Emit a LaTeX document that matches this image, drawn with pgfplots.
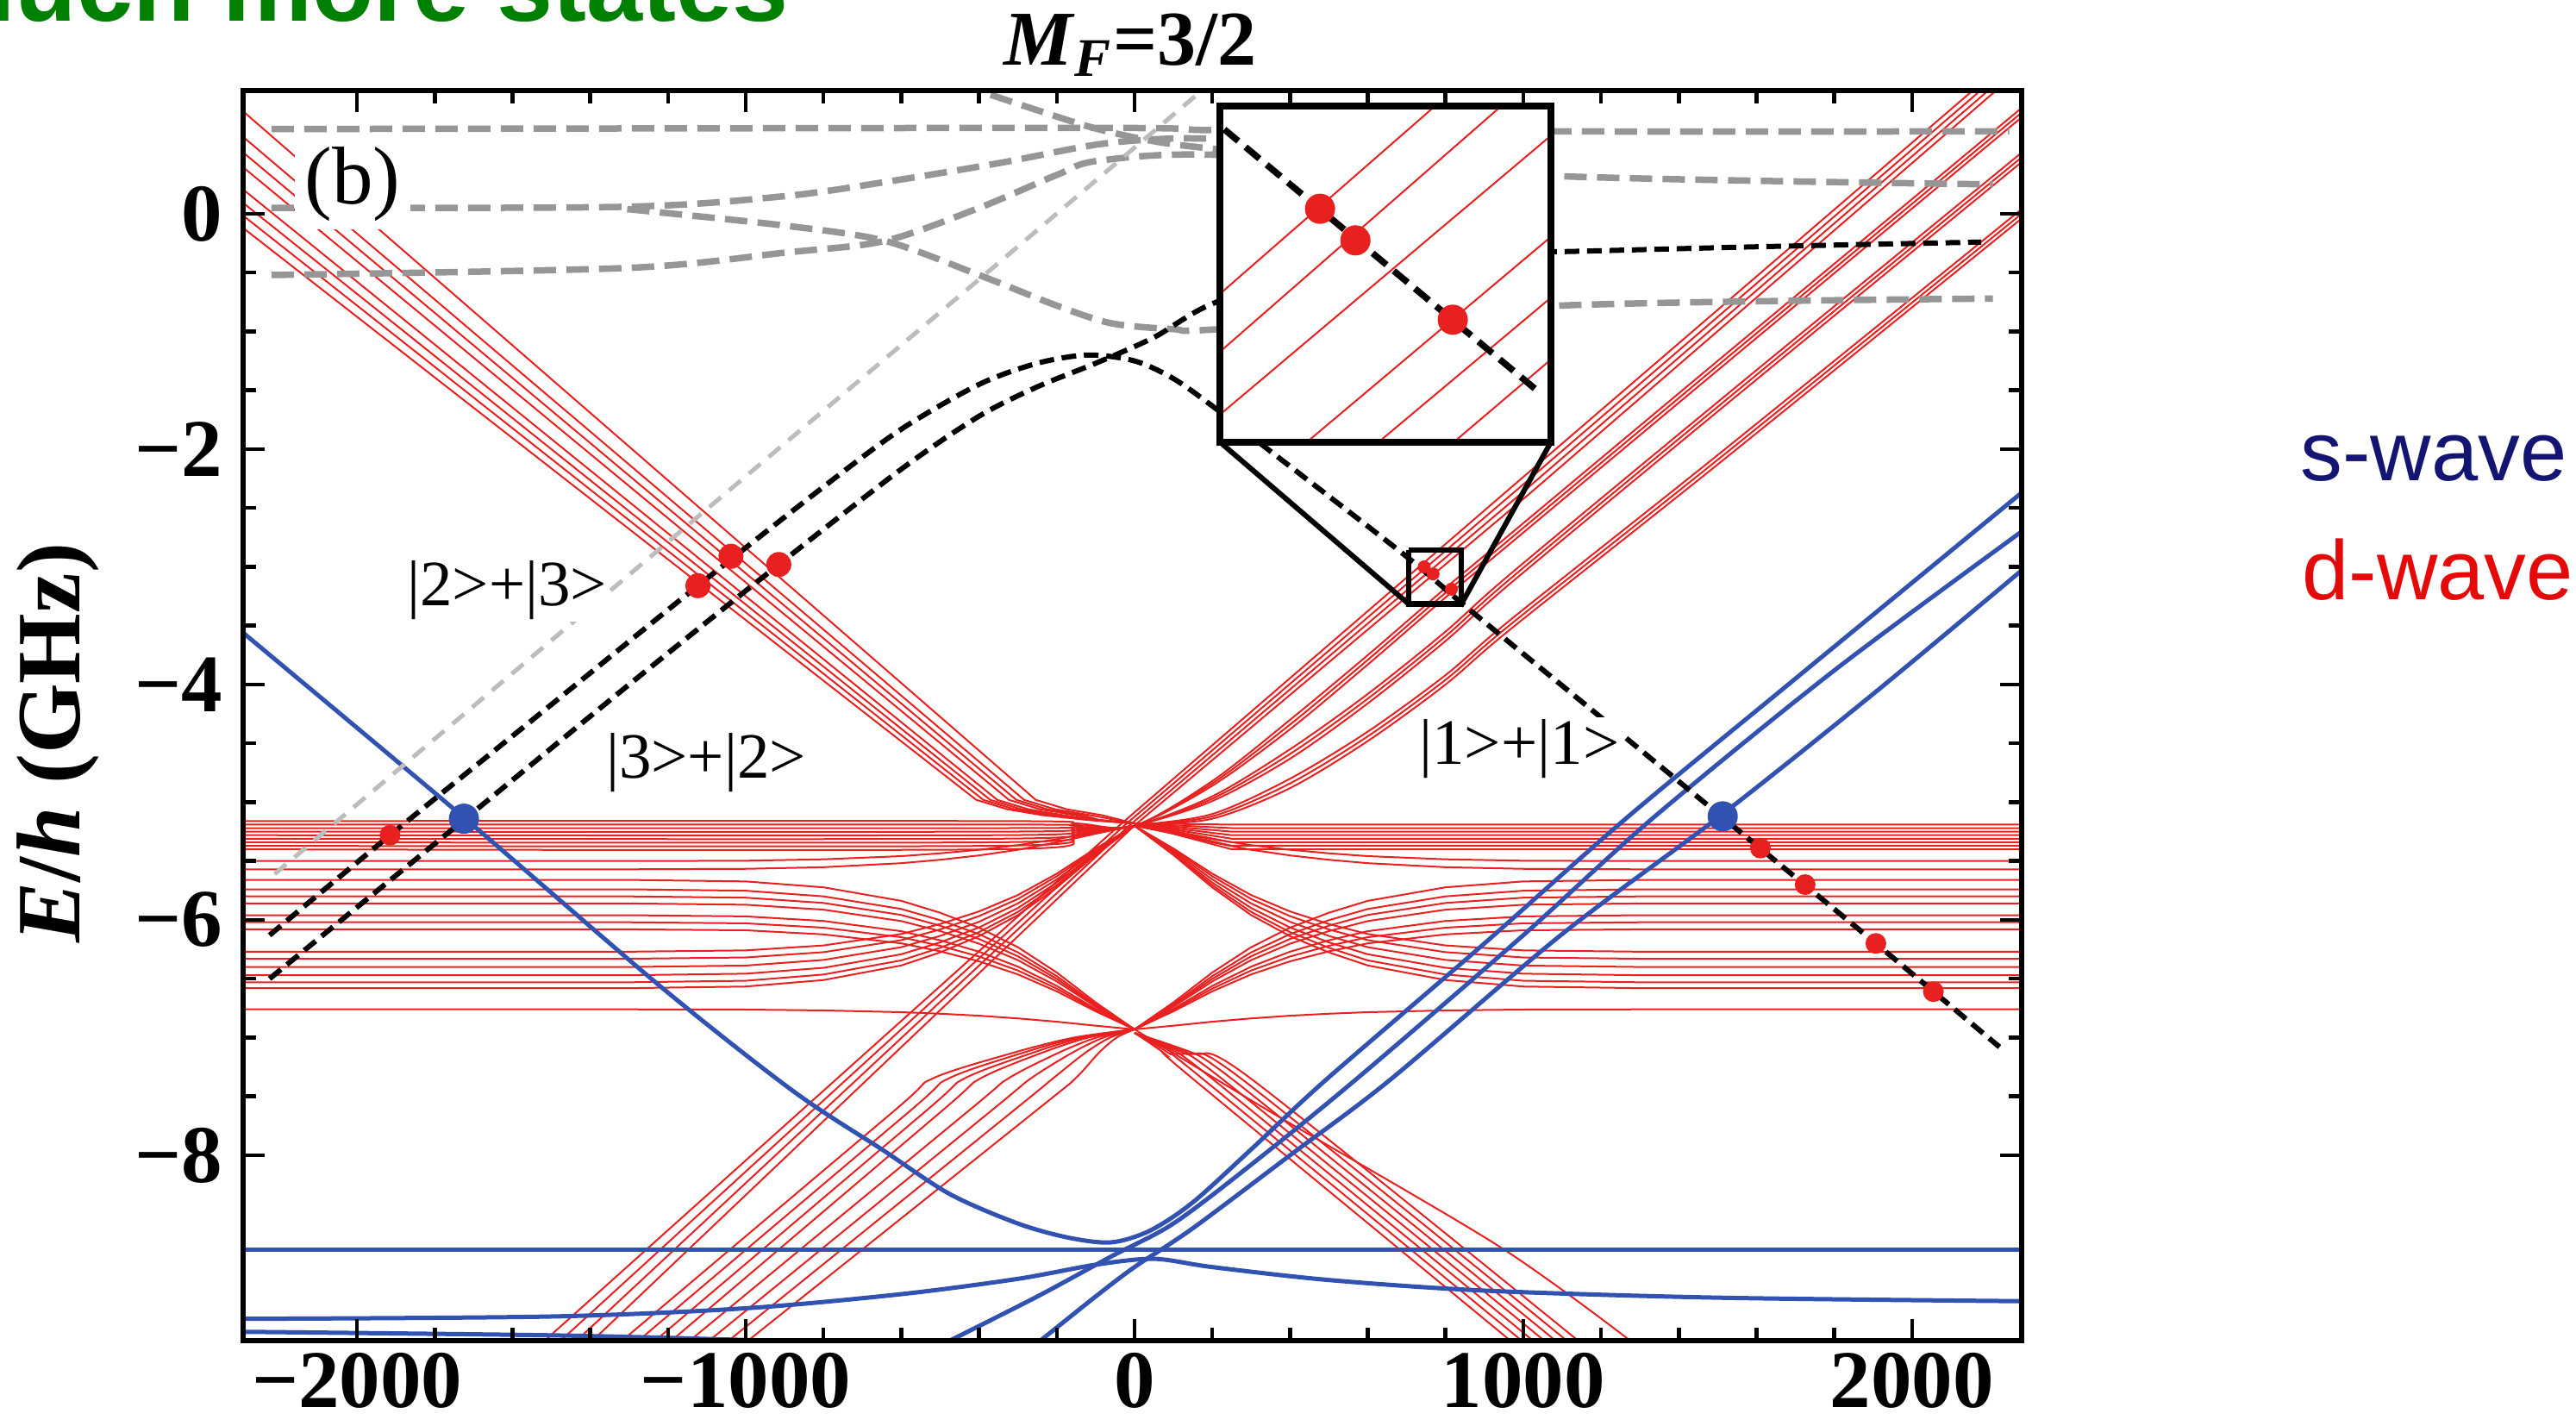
\documentclass[border=0pt]{standalone}
\usepackage{fontspec}
\setmainfont{Liberation Serif}
\newfontfamily\arialfont{Liberation Sans}
\usepackage{pgfplots}
\pgfplotsset{compat=1.18}
\usepackage{pgfplotstable}
\usetikzlibrary{calc}

\definecolor{dred}{RGB}{232,32,32}
\definecolor{bblue}{RGB}{50,82,178}
\definecolor{dgray}{RGB}{150,150,150}
\definecolor{lgray}{RGB}{188,188,188}
\definecolor{navy}{RGB}{20,20,115}
\definecolor{sred}{RGB}{228,10,10}
\definecolor{tgreen}{RGB}{0,128,0}

\pgfplotsset{
 redl/.style={draw=dred, line width=0.4pt, no markers},
 bluel/.style={draw=bblue, line width=1.0pt, no markers, smooth},
 blk/.style={draw=black, line width=1.2pt, dash pattern=on 3.4pt off 1.8pt, no markers, smooth},
 gryl/.style={draw=dgray, line width=1.5pt, dash pattern=on 5.2pt off 2.4pt, no markers, smooth},
 lgryl/.style={draw=lgray, line width=1.0pt, dash pattern=on 3.5pt off 2.5pt, no markers},
}

\pgfplotstableread{
x u1 u2 u3 u4 u5 u6 u7 u8 w1 w2 w3 w4 w5 w6 w7 w8
-2293 -5.50 -5.57 -6.27 -6.33 -6.40 -6.47 -6.53 -6.58 -5.66 -5.74 -5.80 -5.86 -5.96 -6.02 -6.08 -6.76
-1300 -5.50 -5.57 -6.27 -6.33 -6.40 -6.47 -6.53 -6.58 -5.66 -5.74 -5.80 -5.86 -5.96 -6.02 -6.08 -6.76
-1000 -5.497 -5.566 -6.259 -6.319 -6.388 -6.457 -6.517 -6.566 -5.673 -5.752 -5.811 -5.871 -5.970 -6.029 -6.088 -6.762
-800 -5.485 -5.552 -6.217 -6.274 -6.340 -6.407 -6.464 -6.511 -5.723 -5.800 -5.856 -5.913 -6.009 -6.066 -6.123 -6.769
-600 -5.458 -5.518 -6.120 -6.172 -6.232 -6.292 -6.344 -6.387 -5.838 -5.907 -5.958 -6.010 -6.096 -6.147 -6.199 -6.784
-500 -5.434 -5.489 -6.035 -6.081 -6.136 -6.191 -6.237 -6.276 -5.939 -6.002 -6.049 -6.095 -6.173 -6.220 -6.267 -6.797
-400 -5.404 -5.452 -5.928 -5.968 -6.016 -6.064 -6.104 -6.138 -6.066 -6.121 -6.162 -6.202 -6.270 -6.311 -6.352 -6.814
-300 -5.365 -5.404 -5.789 -5.822 -5.860 -5.899 -5.932 -5.959 -6.232 -6.276 -6.309 -6.342 -6.397 -6.430 -6.463 -6.837
-200 -5.314 -5.341 -5.607 -5.629 -5.656 -5.683 -5.705 -5.724 -6.447 -6.478 -6.501 -6.523 -6.561 -6.584 -6.607 -6.865
-100 -5.254 -5.267 -5.393 -5.403 -5.416 -5.429 -5.439 -5.448 -6.701 -6.716 -6.727 -6.737 -6.755 -6.766 -6.777 -6.899
0 -5.2 -5.2 -5.2 -5.2 -5.2 -5.2 -5.2 -5.2 -6.93 -6.93 -6.93 -6.93 -6.93 -6.93 -6.93 -6.93
100 -5.254 -5.267 -5.393 -5.403 -5.416 -5.429 -5.439 -5.448 -6.701 -6.716 -6.727 -6.737 -6.755 -6.766 -6.777 -6.899
200 -5.314 -5.341 -5.607 -5.629 -5.656 -5.683 -5.705 -5.724 -6.447 -6.478 -6.501 -6.523 -6.561 -6.584 -6.607 -6.865
300 -5.365 -5.404 -5.789 -5.822 -5.860 -5.899 -5.932 -5.959 -6.232 -6.276 -6.309 -6.342 -6.397 -6.430 -6.463 -6.837
400 -5.404 -5.452 -5.928 -5.968 -6.016 -6.064 -6.104 -6.138 -6.066 -6.121 -6.162 -6.202 -6.270 -6.311 -6.352 -6.814
500 -5.434 -5.489 -6.035 -6.081 -6.136 -6.191 -6.237 -6.276 -5.939 -6.002 -6.049 -6.095 -6.173 -6.220 -6.267 -6.797
600 -5.458 -5.518 -6.120 -6.172 -6.232 -6.292 -6.344 -6.387 -5.838 -5.907 -5.958 -6.010 -6.096 -6.147 -6.199 -6.784
800 -5.485 -5.552 -6.217 -6.274 -6.340 -6.407 -6.464 -6.511 -5.723 -5.800 -5.856 -5.913 -6.009 -6.066 -6.123 -6.769
1000 -5.497 -5.566 -6.259 -6.319 -6.388 -6.457 -6.517 -6.566 -5.673 -5.752 -5.811 -5.871 -5.970 -6.029 -6.088 -6.762
1300 -5.50 -5.57 -6.27 -6.33 -6.40 -6.47 -6.53 -6.58 -5.66 -5.74 -5.80 -5.86 -5.96 -6.02 -6.08 -6.76
2282 -5.50 -5.57 -6.27 -6.33 -6.40 -6.47 -6.53 -6.58 -5.66 -5.74 -5.80 -5.86 -5.96 -6.02 -6.08 -6.76
}\fan

\begin{document}
\begin{tikzpicture}
\begin{axis}[name=main, at={(0,0)}, anchor=south west,
 scale only axis, width=412.6pt, height=290pt,
 xmin=-2293, xmax=2282, ymin=-9.575, ymax=1.048,
 xtick={-2000,-1000,0,1000,2000}, xticklabels={−2000,−1000,0,1000,2000},
 ytick={-8,-6,-4,-2,0}, yticklabels={−8,−6,−4,−2,0},
 minor x tick num=4, minor y tick num=3,
 tick align=inside, xtick pos=both, ytick pos=both,
 major tick length=5pt, minor tick length=3pt,
 tick style={black, line width=0.9pt},
 axis line style={line width=1.2pt},
 axis on top,
 tick label style={font=\fontsize{19}{19}\selectfont\bfseries},
 xticklabel style={anchor=north, inner sep=0pt, yshift=-2.6pt},
 yticklabel style={anchor=east, inner sep=0pt, xshift=-4.6pt},
 ylabel={\textbf{\textit{E}/\textit{h} (GHz)}},
 ylabel style={font=\fontsize{21}{21}\selectfont, at={(axis description cs:-0.1042,0.478)}, anchor=center},
]
\coordinate (sw) at (rel axis cs:0,0);
\coordinate (insetSW) at (axis cs:220,-1.94);

% ---- red d-wave: fan lines around the two waists
\foreach \c in {u1,u2,u3,u4,u5,u6,u7,u8,w1,w2,w3,w4,w5,w6,w7,w8}{
 \addplot[redl] table[x=x,y=\c]{\fan};
}
% ascending straight lines
\addplot[redl] coordinates {(-1517,-9.575) (-40,-5.2) (967,-2.33) (2157,1.05)};
\addplot[redl] coordinates {(-1476,-9.575) (-27,-5.2) (982,-2.35) (2177,1.05)};
\addplot[redl] coordinates {(-1435,-9.575) (-14,-5.2) (997,-2.37) (2197,1.05)};
\addplot[redl] coordinates {(-1394,-9.575) (-1,-5.2) (1012,-2.39) (2217,1.05)};
% descending from upper left into the upper waist
\addplot[redl] coordinates {(-2293,-0.12) (-407,-4.98) (-327,-5.06) (-237,-5.11) (-122,-5.15) (0,-5.18) (250,-5.19) (2282,-5.19)};
\addplot[redl] coordinates {(-2293,-0.015) (-389,-4.98) (-309,-5.06) (-219,-5.11) (-117,-5.15) (0,-5.18) (250,-5.22) (2282,-5.22)};
\addplot[redl] coordinates {(-2293,0.093) (-371,-4.98) (-291,-5.06) (-201,-5.11) (-111,-5.15) (0,-5.18) (250,-5.25) (2282,-5.25)};
\addplot[redl] coordinates {(-2293,0.207) (-353,-4.98) (-273,-5.06) (-183,-5.11) (-106,-5.15) (0,-5.18) (250,-5.28) (2282,-5.28)};
\addplot[redl] coordinates {(-2293,0.396) (-323,-4.98) (-243,-5.06) (-153,-5.11) (-97,-5.15) (0,-5.18) (250,-5.31) (2282,-5.31)};
\addplot[redl] coordinates {(-2293,0.522) (-304,-4.98) (-224,-5.06) (-134,-5.11) (-91,-5.15) (0,-5.18) (250,-5.34) (2282,-5.34)};
\addplot[redl] coordinates {(-2293,0.654) (-284,-4.98) (-204,-5.06) (-114,-5.11) (0,-5.18) (250,-5.37) (2282,-5.37)};
\addplot[redl] coordinates {(-2293,0.871) (-254,-4.98) (-174,-5.06) (-84,-5.11) (0,-5.18) (250,-5.40) (2282,-5.40)};
% from left cluster up to the upper right
\addplot[redl, smooth] coordinates {(-2293,-5.16) (-350,-5.16) (-150,-5.18) (0,-5.2) (200,-4.82) (400,-4.30) (600,-3.75) (800,-3.18) (967,-2.72) (1500,-1.25) (2282,0.90)};
\addplot[redl, smooth] coordinates {(-2293,-5.19) (-350,-5.19) (-150,-5.195) (0,-5.2) (200,-4.84) (400,-4.34) (600,-3.79) (800,-3.22) (967,-2.76) (1500,-1.29) (2282,0.86)};
\addplot[redl, smooth] coordinates {(-2293,-5.22) (-350,-5.22) (-150,-5.21) (0,-5.2) (200,-4.86) (400,-4.38) (600,-3.83) (800,-3.26) (967,-2.80) (1500,-1.33) (2282,0.82)};
\addplot[redl, smooth] coordinates {(-2293,-5.25) (-350,-5.25) (-150,-5.225) (0,-5.2) (200,-4.95) (400,-4.55) (600,-4.08) (800,-3.55) (967,-3.06) (1500,-1.60) (2282,0.52)};
\addplot[redl, smooth] coordinates {(-2293,-5.28) (-350,-5.28) (-150,-5.24) (0,-5.2) (200,-4.97) (400,-4.59) (600,-4.12) (800,-3.59) (967,-3.10) (1500,-1.64) (2282,0.48)};
\addplot[redl, smooth] coordinates {(-2293,-5.31) (-350,-5.31) (-150,-5.255) (0,-5.2) (200,-4.99) (400,-4.63) (600,-4.16) (800,-3.63) (967,-3.14) (1500,-1.68) (2282,0.44)};
\addplot[redl, smooth] coordinates {(-2293,-5.34) (-350,-5.34) (-150,-5.27) (0,-5.2) (200,-5.10) (400,-4.80) (600,-4.40) (800,-3.92) (967,-3.45) (1500,-2.05) (2282,0.04)};
\addplot[redl, smooth] coordinates {(-2293,-5.37) (-350,-5.37) (-150,-5.285) (0,-5.2) (200,-5.12) (400,-4.84) (600,-4.44) (800,-3.96) (967,-3.49) (1500,-2.09) (2282,0.00)};
\addplot[redl, smooth] coordinates {(-2293,-5.40) (-350,-5.40) (-150,-5.30) (0,-5.2) (200,-5.14) (400,-4.88) (600,-4.48) (800,-4.00) (967,-3.53) (1500,-2.13) (2282,-0.04)};
% from bottom left into the lower waist
\addplot[redl, smooth] coordinates {(-1318,-9.575) (-621,-7.63) (-521,-7.35) (-313,-7.13) (-156,-7.0) (0,-6.93)};
\addplot[redl, smooth] coordinates {(-1276,-9.575) (-580,-7.63) (-480,-7.35) (-288,-7.13) (-144,-7.0) (0,-6.93)};
\addplot[redl, smooth] coordinates {(-1233,-9.575) (-539,-7.63) (-439,-7.35) (-263,-7.13) (-132,-7.0) (0,-6.93)};
\addplot[redl, smooth] coordinates {(-1191,-9.575) (-498,-7.63) (-398,-7.35) (-239,-7.13) (-119,-7.0) (0,-6.93)};
\addplot[redl, smooth] coordinates {(-1144,-9.575) (-426,-7.62) (-326,-7.35) (-196,-7.13) (-98,-7.0) (0,-6.93)};
\addplot[redl, smooth] coordinates {(-1094,-9.575) (-368,-7.62) (-268,-7.35) (-161,-7.13) (-80,-7.0) (0,-6.93)};
\addplot[redl, smooth] coordinates {(-1044,-9.575) (-311,-7.62) (-211,-7.35) (-127,-7.13) (-63,-7.0) (0,-6.93)};
\addplot[redl, smooth] coordinates {(-994,-9.575) (-253,-7.62) (-153,-7.35) (-92,-7.13) (-46,-7.0) (0,-6.93)};
% from the lower waist down to the bottom right
\addplot[redl, smooth] coordinates {(0,-6.96) (75,-7.13) (150,-7.35) (967,-9.575)};
\addplot[redl, smooth] coordinates {(0,-6.96) (87,-7.13) (175,-7.35) (996,-9.575)};
\addplot[redl, smooth] coordinates {(0,-6.96) (100,-7.13) (200,-7.35) (1025,-9.575)};
\addplot[redl, smooth] coordinates {(0,-6.96) (112,-7.13) (225,-7.35) (1054,-9.575)};
\addplot[redl, smooth] coordinates {(0,-6.96) (125,-7.13) (250,-7.35) (1083,-9.575)};
\addplot[redl, smooth] coordinates {(0,-6.96) (137,-7.13) (275,-7.35) (1112,-9.575)};
\addplot[redl, smooth] coordinates {(0,-6.96) (150,-7.13) (300,-7.35) (1141,-9.575)};
\addplot[redl, smooth] coordinates {(0,-6.93) (339,-7.61) (936,-8.77) (1275,-9.575)};

% ---- blue s-wave
\addplot[bluel] coordinates {(-2293,-3.56) (-1725,-5.13) (-1225,-6.55) (-880,-7.45) (-650,-7.95) (-475,-8.33) (-300,-8.58) (-170,-8.70) (-60,-8.74) (40,-8.64) (150,-8.40) (300,-7.95) (492,-7.36) (900,-6.20) (1267,-5.13) (1700,-3.95) (2282,-2.37)};
\addplot[bluel] coordinates {(-475,-9.575) (-250,-9.2) (-60,-8.86) (100,-8.58) (300,-8.08) (568,-7.36) (1000,-6.13) (1335,-5.13) (1800,-3.88) (2282,-2.70)};
\addplot[bluel] coordinates {(-242,-9.575) (-100,-9.2) (0,-8.95) (150,-8.62) (400,-8.0) (657,-7.36) (1100,-6.12) (1513,-5.10) (1900,-4.08) (2282,-3.03)};
\addplot[bluel] coordinates {(-2293,-8.80) (2282,-8.80)};
\addplot[bluel] coordinates {(-2293,-9.39) (-1500,-9.37) (-1000,-9.30) (-600,-9.18) (-300,-9.05) (-100,-8.93) (50,-8.88) (200,-8.95) (500,-9.06) (900,-9.15) (1500,-9.21) (2282,-9.24)};
\addplot[bluel] coordinates {(-2293,-9.50) (-1500,-9.53) (-1000,-9.57) (-800,-9.60)};

% ---- gray dashed (upper M_F=3/2 states)
\addplot[gryl] coordinates {(-2220,0.72) (-94,0.73) (220,0.71) (1093,0.70) (2250,0.70)};
\addplot[gryl] coordinates {(-2220,0.05) (-1305,0.06) (-900,0.15) (-642,0.27) (-350,0.43) (-94,0.59) (100,0.64) (300,0.63)};
\addplot[gryl] coordinates {(-1305,0.04) (-900,-0.10) (-642,-0.23) (-400,-0.52) (-200,-0.78) (-60,-0.93) (100,-0.98) (220,-0.98) (1093,-0.78) (2208,-0.72)};
\addplot[gryl] coordinates {(-2220,-0.52) (-1305,-0.46) (-900,-0.33) (-642,-0.23) (-400,0.05) (-200,0.33) (-94,0.45) (220,0.50) (1093,0.32) (2208,0.25)};
\addplot[gryl] coordinates {(-450,1.10) (-250,0.88) (-94,0.72) (80,0.60) (300,0.52)};
\addplot[lgryl] coordinates {(-2212,-5.61) (-322,-0.34) (174,1.05)};

% ---- black dashed
\addplot[blk] coordinates {(-2225,-6.13) (-1915,-5.28) (-1500,-4.17) (-1123,-3.16) (-800,-2.32) (-600,-1.83) (-400,-1.45) (-250,-1.27) (-120,-1.20) (0,-1.25) (100,-1.40) (203,-1.64) (331,-1.97) (695,-2.90) (864,-3.37) (1200,-4.28) (1513,-5.13) (1907,-6.20) (2225,-7.08)};
\addplot[blk] coordinates {(-2225,-6.50) (-1725,-5.15) (-1300,-4.00) (-915,-2.98) (-600,-2.17) (-400,-1.72) (-250,-1.47) (-100,-1.27) (50,-1.05) (203,-0.76) (500,-0.45) (800,-0.34) (1119,-0.32) (1600,-0.28) (2178,-0.24)};

% ---- dots
\addplot[only marks, mark=*, mark size=2.7pt, mark options={fill=dred, draw=dred}] coordinates {(-1123,-3.16) (-1038,-2.91) (-915,-2.98)};
\addplot[only marks, mark=*, mark size=2.2pt, mark options={fill=dred, draw=dred}] coordinates {(-1915,-5.28) (1610,-5.39) (1725,-5.70) (1907,-6.20) (2055,-6.61)};
\addplot[only marks, mark=*, mark size=1.3pt, mark options={fill=dred, draw=dred}] coordinates {(745,-3.00) (768,-3.06) (815,-3.19)};
\addplot[only marks, mark=*, mark size=3.3pt, mark options={fill=bblue, draw=bblue}] coordinates {(-1725,-5.14) (1513,-5.12)};

% ---- labels
\node[fill=white, inner sep=0pt, minimum width=26.9pt, minimum height=20.7pt, font=\fontsize{19}{19}\selectfont] at (axis cs:-2011,0.25) {(b)};
\node[fill=white, inner sep=0.5pt, font=\fontsize{15}{15}\selectfont] at (axis cs:-1614,-3.20) {|2>+|3>};
\node[fill=white, inner sep=0.5pt, font=\fontsize{15}{15}\selectfont] at (axis cs:-1102,-4.66) {|3>+|2>};
\node[fill=white, inner sep=0.5pt, font=\fontsize{15}{15}\selectfont] at (axis cs:990,-4.55) {|1>+|1>};

% ---- zoom box and connectors
\addplot[black, line width=1.2pt] coordinates {(220,-1.94) (705,-3.315)};
\addplot[black, line width=1.2pt] coordinates {(1071,-1.94) (841,-3.315)};
\addplot[black, line width=1.3pt] coordinates {(705,-2.857) (841,-2.857) (841,-3.315) (705,-3.315) (705,-2.857)};
\end{axis}

% ---- inset
\begin{axis}[at={(insetSW)}, anchor=south west, scale only axis,
 width=76.8pt, height=78pt, xmin=0, xmax=1, ymin=0, ymax=1,
 ticks=none, axis line style={line width=1.6pt}, axis on top,
 axis background/.style={fill=white}]
\addplot[redl] coordinates {(0,0.441) (1,1.301)};
\addplot[redl] coordinates {(0,0.269) (1,1.129)};
\addplot[redl] coordinates {(0,0.082) (1,0.912)};
\addplot[redl] coordinates {(0,-0.217) (1,0.611)};
\addplot[redl] coordinates {(0,-0.395) (1,0.430)};
\addplot[redl] coordinates {(0,-0.591) (1,0.246)};
\addplot[black, line width=1.5pt, dash pattern=on 4.2pt off 2.2pt] coordinates {(0.013,0.930) (0.957,0.154)};
\addplot[only marks, mark=*, mark size=3.3pt, mark options={fill=dred, draw=dred}] coordinates {(0.302,0.694) (0.409,0.600) (0.703,0.364)};
\end{axis}

% ---- texts outside the axis
\node[anchor=base, font=\fontsize{18}{18}\selectfont] at ($(sw)+(205.8pt,295.8pt)$) {\textbf{\textit{M}\textsubscript{\textit{F}}=3/2}};
\node[anchor=base west, text=tgreen, font=\arialfont\bfseries\fontsize{23.4}{23.4}\selectfont] at ($(sw)+(-75.9pt,306pt)$) {Much more states};
\node[anchor=base west, text=navy, font=\arialfont\fontsize{19.5}{19.5}\selectfont] at ($(sw)+(473.8pt,199.5pt)$) {s-wave};
\node[anchor=base west, text=sred, font=\arialfont\fontsize{19.5}{19.5}\selectfont] at ($(sw)+(474.2pt,171.8pt)$) {d-wave};

\pgfresetboundingbox
\path[use as bounding box] ($(sw)+(-56.4pt,-19.8pt)$) rectangle ($(sw)+(541.2pt,311pt)$);
\end{tikzpicture}
\end{document}
